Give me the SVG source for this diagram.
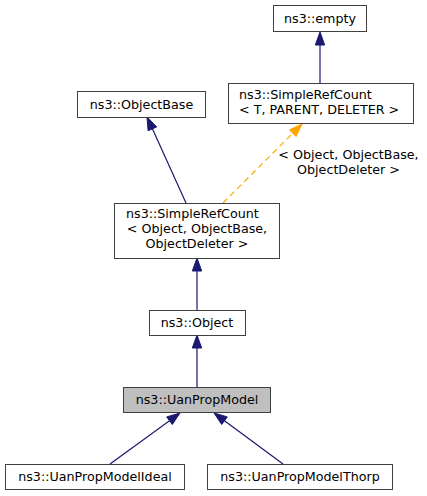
<svg xmlns="http://www.w3.org/2000/svg" width="427" height="496" viewBox="0 0 427 496">
<style>
.box{fill:#ffffff;stroke:#404040;stroke-width:1}
.hl{fill:#bfbfbf;stroke:#404040;stroke-width:1}
text{font-family:"DejaVu Sans","Noto Sans",sans-serif;font-size:12.7px;fill:#000000}
.c{text-anchor:middle}
.e{stroke:#191970;stroke-width:1.2;fill:none}
.ah{fill:#191970;stroke:#191970;stroke-width:1}
.d{stroke:#ffa500;stroke-width:1.2;fill:none;stroke-dasharray:6,4}
.oh{fill:#ffa500;stroke:#ffa500;stroke-width:1}
</style>
<rect width="427" height="496" fill="#ffffff"/>
<g id="edges">
<line class="e" x1="320" y1="83" x2="320" y2="45"/>
<polygon class="ah" points="320,32 324.7,45 315.3,45"/>
<line class="e" x1="186" y1="203" x2="152.4" y2="128.8"/>
<polygon class="ah" points="147,117 156.7,126.9 148.1,130.7"/>
<line class="d" x1="223" y1="203" x2="292.8" y2="133.2"/>
<polygon class="oh" points="302,124 296.1,136.5 289.5,129.9"/>
<line class="e" x1="197" y1="310" x2="197" y2="271"/>
<polygon class="ah" points="197,258 201.7,271 192.3,271"/>
<line class="e" x1="197" y1="387" x2="197" y2="348"/>
<polygon class="ah" points="197,335 201.7,348 192.3,348"/>
<line class="e" x1="110" y1="464" x2="169.5" y2="420.7"/>
<polygon class="ah" points="180,413 172.3,424.5 166.7,416.9"/>
<line class="e" x1="283" y1="464" x2="224.5" y2="420.7"/>
<polygon class="ah" points="214,413 227.3,416.9 221.7,424.5"/>
<text class="c" x="348.5" y="159">&lt; Object, ObjectBase,</text>
<text class="c" x="348.5" y="173.5">ObjectDeleter &gt;</text>
</g>
<g id="node_empty">
<rect class="box" x="273.5" y="5.5" width="93" height="26"/>
<text class="c" x="320" y="23">ns3::empty</text>
</g>
<g id="node_SimpleRefCountT">
<rect class="box" x="228.5" y="83.5" width="185" height="40"/>
<text x="239" y="99">ns3::SimpleRefCount</text>
<text x="239" y="113.5">&lt; T, PARENT, DELETER &gt;</text>
</g>
<g id="node_ObjectBase">
<rect class="box" x="77.5" y="91.5" width="128" height="26"/>
<text class="c" x="141.5" y="108.5">ns3::ObjectBase</text>
</g>
<g id="node_SimpleRefCountObject">
<rect class="box" x="114.5" y="203.5" width="165" height="55"/>
<text x="126" y="218">ns3::SimpleRefCount</text>
<text class="c" x="197" y="233">&lt; Object, ObjectBase,</text>
<text class="c" x="197" y="247.5">ObjectDeleter &gt;</text>
</g>
<g id="node_Object">
<rect class="box" x="149.5" y="310.5" width="96" height="25"/>
<text class="c" x="197" y="327">ns3::Object</text>
</g>
<g id="node_UanPropModel">
<rect class="hl" x="123.5" y="387.5" width="147" height="25"/>
<text class="c" x="197" y="404">ns3::UanPropModel</text>
</g>
<g id="node_UanPropModelIdeal">
<rect class="box" x="5.5" y="464.5" width="179" height="25"/>
<text class="c" x="95" y="481">ns3::UanPropModelIdeal</text>
</g>
<g id="node_UanPropModelThorp">
<rect class="box" x="207.5" y="464.5" width="185" height="25"/>
<text class="c" x="300" y="481">ns3::UanPropModelThorp</text>
</g>
</svg>
